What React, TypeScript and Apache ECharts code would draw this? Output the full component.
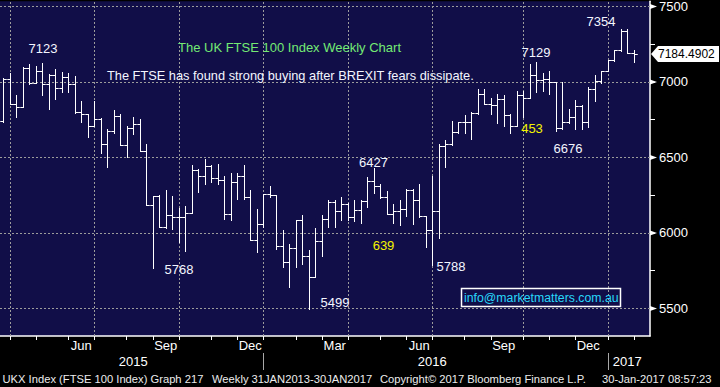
import React, { useEffect, useRef } from "react";
import * as echarts from "echarts";

// ---- data ----
const FIRST_WEEK = "2015-03-20";
const WEEK_COUNT = 100; // 98 weekly bars + 2 empty weeks of right margin

const opens = [
  6740, 7020, 6853, 6831, 7091, 6996, 7073, 6985, 7045, 6959,
  7033, 6985, 6804, 6787, 6708, 6754, 6589, 6677, 6776, 6585,
  6695, 6721, 6545, 6187, 6243, 6039, 6121, 6105, 6105, 6131,
  6418, 6378, 6446, 6365, 6351, 6123, 6340, 6380, 6237, 5956,
  6057, 6255, 6248, 5916, 5804, 5903, 6088, 5850, 5711, 5949,
  6094, 6204, 6144, 6193, 6105, 6149, 6210, 6347, 6312, 6237,
  6127, 6144, 6160, 6281, 6215, 6111, 6022, 6144, 6573, 6589,
  6670, 6732, 6732, 6796, 6923, 6857, 6847, 6890, 6781, 6710,
  6913, 6897, 7045, 7012, 7018, 7000, 6692, 6736, 6771, 6842,
  6736, 6952, 7007, 7073, 7144, 7210, 7337, 7194,
];
const highs = [
  7025, 7062, 6915, 7099, 7117, 7106, 7123, 7051, 7084, 7068,
  7062, 7040, 6875, 6790, 6875, 6760, 6688, 6814, 6790, 6710,
  6769, 6754, 6589, 6243, 6250, 6285, 6243, 6167, 6180, 6451,
  6425, 6490, 6450, 6457, 6380, 6395, 6398, 6453, 6286, 6160,
  6259, 6314, 6252, 6017, 5929, 6088, 6116, 5885, 6035, 6116,
  6215, 6220, 6241, 6198, 6220, 6220, 6369, 6427, 6325, 6276,
  6193, 6220, 6292, 6292, 6325, 6115, 6380, 6589, 6616, 6743,
  6738, 6783, 6802, 6956, 6956, 6897, 6923, 6913, 6785, 6941,
  6941, 7120, 7129, 7062, 7073, 7003, 7000, 6820, 6880, 6845,
  6969, 7047, 7073, 7144, 7210, 7354, 7350, 7210,
];
const lows = [
  6735, 6853, 6771, 6831, 6985, 6996, 6913, 6818, 6890, 6936,
  6936, 6794, 6738, 6633, 6708, 6527, 6435, 6660, 6585, 6501,
  6655, 6545, 6187, 5768, 6039, 6035, 6028, 5940, 5880, 6131,
  6270, 6325, 6340, 6321, 6090, 6083, 6222, 6222, 5956, 5874,
  6039, 6237, 5896, 5775, 5643, 5775, 5793, 5499, 5705, 5845,
  6039, 6039, 6083, 6087, 6082, 6065, 6171, 6263, 6233, 6123,
  6065, 6050, 6109, 6057, 6105, 5907, 5788, 5969, 6435, 6585,
  6659, 6659, 6622, 6788, 6853, 6788, 6725, 6710, 6659, 6705,
  6771, 6897, 6936, 6941, 6923, 6676, 6690, 6730, 6688, 6688,
  6703, 6875, 6992, 7070, 7140, 7205, 7194, 7134,
];
const closes = [
  7020, 6853, 6831, 7091, 6996, 7073, 6985, 7045, 6959, 7033,
  6985, 6804, 6787, 6708, 6754, 6589, 6677, 6776, 6585, 6695,
  6721, 6545, 6187, 6243, 6039, 6121, 6105, 6105, 6131, 6418,
  6378, 6446, 6365, 6351, 6123, 6340, 6380, 6237, 5956, 6057,
  6255, 6248, 5916, 5804, 5903, 6088, 5850, 5711, 5949, 6094,
  6204, 6144, 6193, 6105, 6149, 6210, 6347, 6312, 6237, 6127,
  6144, 6160, 6281, 6215, 6111, 6022, 6144, 6573, 6589, 6670,
  6732, 6732, 6796, 6923, 6857, 6847, 6890, 6781, 6710, 6913,
  6897, 7045, 7012, 7018, 7000, 6692, 6736, 6771, 6842, 6736,
  6952, 7007, 7073, 7144, 7210, 7337, 7194, 7184.4902,
];

const LAST_PRICE_TEXT = "7184.4902";
const Y_MIN = 5317;
const Y_MAX = 7535;
const Y_LABELS = [5500, 6000, 6500, 7000, 7500];
const Y_TICKS = [5500, 5750, 6000, 6250, 6500, 6750, 7000, 7250, 7500];
const MONTH_NAMES = ["Jan", "Feb", "Mar", "Apr", "May", "Jun", "Jul", "Aug", "Sep", "Oct", "Nov", "Dec"];
const YEAR_LABEL_WEEKS = [20, 66, 96];

const TITLE = "The UK FTSE 100 Index Weekly Chart";
const SUBTITLE = "The FTSE has found strong buying after BREXIT fears dissipate.";
const EMAIL = "info@marketmatters.com.au";
const FOOTER = [
  "UKX Index (FTSE 100 Index) Graph 217",
  "Weekly 31JAN2013-30JAN2017",
  "Copyright\u00A9 2017 Bloomberg Finance L.P.",
  "30-Jan-2017 08:57:23",
];
// annotation labels: [text, centreX, centreY, colour]
const NOTES: [string, number, number, string][] = [
  ["7123", 43, 48, "#f4f6ff"],
  ["5768", 179, 269, "#f4f6ff"],
  ["5499", 335, 302, "#f4f6ff"],
  ["639", 383.5, 245, "#f4f400"],
  ["5788", 451, 266, "#f4f6ff"],
  ["6427", 373.5, 162, "#f4f6ff"],
  ["7129", 536, 52, "#f4f6ff"],
  ["453", 532, 128, "#f4f400"],
  ["6676", 568, 148, "#f4f6ff"],
  ["7354", 601, 21, "#f4f6ff"],
];

// ---- derived categories ----
const weekDates: string[] = [];
{
  const start = Date.parse(FIRST_WEEK + "T00:00:00Z");
  for (let i = 0; i < WEEK_COUNT; i++) {
    weekDates.push(new Date(start + i * 7 * 86400000).toISOString().slice(0, 10));
  }
}
const monthOf = (s: string) => Number(s.slice(5, 7)) - 1;
const dayOf = (s: string) => Number(s.slice(8, 10));
const monthEnd = new Set<number>();
const quarterEnd: number[] = [];
const yearEnd = new Set<number>();
const monthLabel = new Set<number>();
weekDates.forEach((d, i) => {
  if (i + 1 < weekDates.length) {
    const m1 = monthOf(weekDates[i + 1]);
    if (m1 !== monthOf(d)) {
      monthEnd.add(i);
      if (m1 % 3 === 0) quarterEnd.push(i);
      if (m1 === 0) yearEnd.add(i);
    }
  }
  if (monthOf(d) % 3 === 2 && dayOf(d) >= 8 && dayOf(d) <= 14) monthLabel.add(i);
});

const FONT = "'Liberation Sans', Arial, sans-serif";

export default function App() {
  const ref = useRef<HTMLDivElement>(null);
  useEffect(() => {
    if (!ref.current) return;
    const chart = echarts.init(ref.current, undefined, { renderer: "svg" });
    const ohlc = opens.map((o, i) => [i, o, highs[i], lows[i], closes[i]]);
    const option: any = {
      animation: false,
      backgroundColor: "#000000",
      textStyle: { fontFamily: FONT },
      grid: {
        left: 0, top: 0, width: 650, height: 336,
        show: true, backgroundColor: "#110e48", borderWidth: 0,
      },
      xAxis: [
        {
          type: "category", data: weekDates, boundaryGap: true, position: "bottom",
          axisLine: { show: true, lineStyle: { color: "#ffffff", width: 1.5 } },
          axisTick: {
            show: true, alignWithLabel: true, length: 4,
            interval: (i: number) => monthEnd.has(i),
            lineStyle: { color: "#ffffff" },
          },
          axisLabel: {
            interval: (i: number) => monthLabel.has(i),
            formatter: (v: string) => MONTH_NAMES[monthOf(v)],
            color: "#ffffff", fontSize: 13, margin: 3, fontFamily: FONT,
          },
          splitLine: { show: false },
        },
        {
          type: "category", data: weekDates, boundaryGap: true, position: "bottom", offset: 17,
          axisLine: { show: false },
          axisTick: {
            show: true, alignWithLabel: true, length: 17,
            interval: (i: number) => yearEnd.has(i),
            lineStyle: { color: "#a8a8a8" },
          },
          axisLabel: {
            interval: (i: number) => YEAR_LABEL_WEEKS.includes(i),
            formatter: (v: string) => v.slice(0, 4),
            color: "#ffffff", fontSize: 13, margin: 2, fontFamily: FONT,
          },
          splitLine: { show: false },
        },
      ],
      yAxis: {
        type: "value", position: "right", min: Y_MIN, max: Y_MAX, splitNumber: 4,
        axisLine: { show: true, lineStyle: { color: "#ffffff", width: 1.5 } },
        axisTick: { show: true, customValues: Y_TICKS, length: 5, lineStyle: { color: "#ffffff" } },
        axisLabel: {
          customValues: Y_LABELS, color: "#ffffff", fontSize: 13, margin: 9, fontFamily: FONT,
          formatter: (v: number) => String(Math.round(v)),
        },
        splitLine: { show: false },
      },
      series: [
        {
          type: "line", data: [], z: 1, silent: true,
          markLine: {
            silent: true, symbol: ["none", "none"], animation: false,
            label: { show: false },
            lineStyle: { color: "#9c9c9c", type: [2, 2], width: 1 },
            data: [
              ...quarterEnd.map((i) => ({ xAxis: weekDates[i] })),
              ...Y_LABELS.map((v) => ({ yAxis: v })),
            ],
          },
        },
        {
          type: "custom", z: 5,
          data: ohlc,
          encode: { x: 0, y: [1, 2, 3, 4] },
          renderItem: (params: any, api: any) => {
            const i = api.value(0);
            const o = api.coord([i, api.value(1)]);
            const h = api.coord([i, api.value(2)]);
            const l = api.coord([i, api.value(3)]);
            const c = api.coord([i, api.value(4)]);
            const half = api.size([1, 0])[0] / 2;
            const r = (v: number) => Math.round(v) + 0.5;
            const x = r(o[0]);
            const st = { stroke: "#ffffff", lineWidth: 1 };
            return {
              type: "group",
              children: [
                { type: "line", shape: { x1: x, y1: r(h[1]) - 0.5, x2: x, y2: r(l[1]) + 0.5 }, style: st },
                { type: "line", shape: { x1: x - half, y1: r(o[1]), x2: x, y2: r(o[1]) }, style: st },
                { type: "line", shape: { x1: x, y1: r(c[1]), x2: x + half, y2: r(c[1]) }, style: st },
              ],
            };
          },
        },
      ],
    };
    chart.setOption(option);

    const toY = (v: number) => chart.convertToPixel({ yAxisIndex: 0 }, v) as number;
    const graphic: any[] = [];
    Y_LABELS.forEach((v) => {
      const y = toY(v);
      graphic.push({
        type: "polygon", shape: { points: [[650, y - 2.5], [657, y], [650, y + 2.5]] },
        style: { fill: "#ffffff" }, z: 10,
      });
    });
    const lastY = toY(closes[closes.length - 1]);
    graphic.push({
      type: "polygon",
      shape: { points: [[651, lastY], [658, lastY - 8], [719, lastY - 8], [719, lastY + 8], [658, lastY + 8]] },
      style: { fill: "#ffffff" }, z: 10,
    });
    graphic.push({
      type: "text", x: 658, y: lastY, z: 11,
      style: { text: LAST_PRICE_TEXT, fill: "#000000", font: `12px ${FONT}`, verticalAlign: "middle" },
    });
    NOTES.forEach(([t, x, y, col]) => {
      graphic.push({
        type: "text", x, y, z: 12,
        style: { text: t, fill: col, font: `13px ${FONT}`, align: "center", verticalAlign: "middle" },
      });
    });
    graphic.push({
      type: "text", x: 178, y: 47, z: 12,
      style: { text: TITLE, fill: "#74ea74", font: `13px ${FONT}`, verticalAlign: "middle" },
    });
    graphic.push({
      type: "text", x: 107, y: 75, z: 12,
      style: { text: SUBTITLE, fill: "#f4f6ff", font: `12.8px ${FONT}`, verticalAlign: "middle" },
    });
    graphic.push({
      type: "rect", shape: { x: 461.5, y: 288.5, width: 159, height: 18 }, z: 12,
      style: { fill: "none", stroke: "#ffffff", lineWidth: 1.5 },
    });
    graphic.push({
      type: "text", x: 464, y: 297.5, z: 12,
      style: { text: EMAIL, fill: "#28d8fa", font: `12.3px ${FONT}`, verticalAlign: "middle" },
    });
    const footX = [2.5, 212, 380, 602];
    FOOTER.forEach((t, k) => {
      graphic.push({
        type: "text", x: footX[k], y: 379, z: 12,
        style: { text: t, fill: "#ececec", font: `11.2px ${FONT}`, verticalAlign: "middle" },
      });
    });
    chart.setOption({ graphic });

    return () => chart.dispose();
  }, []);
  return (
    <div
      ref={ref}
      style={{ position: "absolute", left: 0, top: 0, width: 720, height: 387 }}
    />
  );
}
